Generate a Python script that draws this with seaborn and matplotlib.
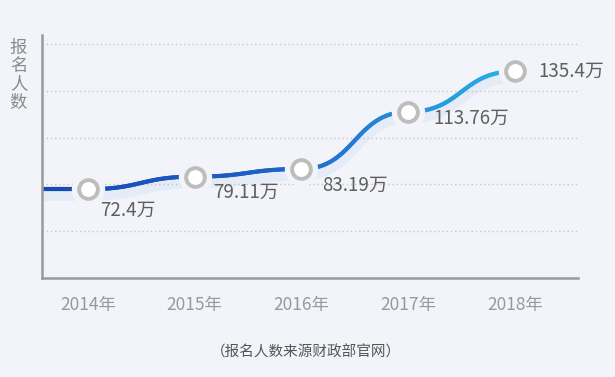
import numpy as np
import matplotlib
matplotlib.use("Agg")
import matplotlib.pyplot as plt
import matplotlib.transforms as mtransforms
from matplotlib.bezier import BezierSegment
from matplotlib.collections import LineCollection
from matplotlib.colors import LinearSegmentedColormap
import seaborn as sns

# data
years = ["2014年", "2015年", "2016年", "2017年", "2018年"]
applicants = [72.4, 79.11, 83.19, 113.76, 135.4]   # 万人
labels = ["72.4万", "79.11万", "83.19万", "113.76万", "135.4万"]
ylabel = "报名人数"
source = "（报名人数来源财政部官网）"

bg = "#f2f4f9"
sns.set_theme(style="white")
plt.rcParams["font.family"] = ["Noto Sans CJK SC", "DejaVu Sans"]

fig = plt.figure(figsize=(6.15, 3.77), dpi=100, facecolor=bg)
ax = fig.add_axes([0.068, 0.263, 0.872, 0.645], facecolor=bg)

x = np.arange(len(years))
y = np.array(applicants)
x0, x1 = -0.43, 4.59
ax.set_xlim(x0, x1)
ax.set_ylim(25, 155)

# smooth S-shaped curve between the points (bezier segments, flat at each point)
pts = []
t = np.linspace(0, 1, 60)
lead = BezierSegment(np.array([[x0, y[0]], [-0.25, y[0]], [-0.1, y[0]], [0, y[0]]]))
pts.append(lead(t))
for i in range(len(x) - 1):
    dx = x[i + 1] - x[i]
    ctrl = np.array([[x[i], y[i]], [x[i] + dx * 0.5, y[i]],
                     [x[i + 1] - dx * 0.5, y[i + 1]], [x[i + 1], y[i + 1]]])
    pts.append(BezierSegment(ctrl)(t))
curve = np.vstack(pts)
segs = np.stack([curve[:-1], curve[1:]], axis=1)

cmap = LinearSegmentedColormap.from_list("blues", ["#1748b3", "#1f63c8", "#2bb2ea"])

# soft glow below the line
shadow_tr = mtransforms.offset_copy(ax.transData, fig=fig, x=0, y=-4, units="points")
ax.plot(curve[:, 0], curve[:, 1], color="#7fa6ea", lw=9, alpha=0.10,
        transform=shadow_tr, solid_capstyle="round")

lc = LineCollection(segs, cmap=cmap, linewidths=3, capstyle="round")
lc.set_array((segs[:, 0, 0] - x0) / (x[-1] - x0))
lc.set_clim(0, 1)
ax.add_collection(lc)

# halo behind markers to break the line, then the ring markers
ax.scatter(x, y, s=24 ** 2, color=bg, zorder=3, linewidths=0)
sns.scatterplot(x=x, y=y, s=13.5 ** 2, color="white", edgecolor="#bdbdbd",
                linewidth=2.8, zorder=4, ax=ax, legend=False)

offsets = [(9, -15), (13, -11), (15, -12), (18, -5), (17, 0)]
for xi, yi, lab, off in zip(x, y, labels, offsets):
    ax.annotate(lab, (xi, yi), xytext=off, textcoords="offset points",
                ha="left", va="center", fontsize=13.5, color="#5f5f5f")

# grid and axes
ax.set_yticks([50, 75, 100, 125, 150])
ax.yaxis.grid(True, linestyle=(0, (1, 2)), color="#c8c8c8", linewidth=1)
ax.tick_params(axis="y", left=False, labelleft=False)
ax.set_xticks(x)
ax.set_xticklabels(years, fontsize=12.5, color="#999999")
ax.tick_params(axis="x", bottom=False, pad=7)
for side in ["top", "right"]:
    ax.spines[side].set_visible(False)
for side in ["left", "bottom"]:
    ax.spines[side].set_color("#9a9a9a")
    ax.spines[side].set_linewidth(1.8)

fig.text(0.03, 0.80, "\n".join(ylabel), ha="center", va="center",
         fontsize=12.5, color="#8a8a8a", linespacing=1.02)
fig.text(0.497, 0.066, source, ha="center", va="center", fontsize=10.5, color="#555555")

fig.savefig("out.png", dpi=100, facecolor=bg)
